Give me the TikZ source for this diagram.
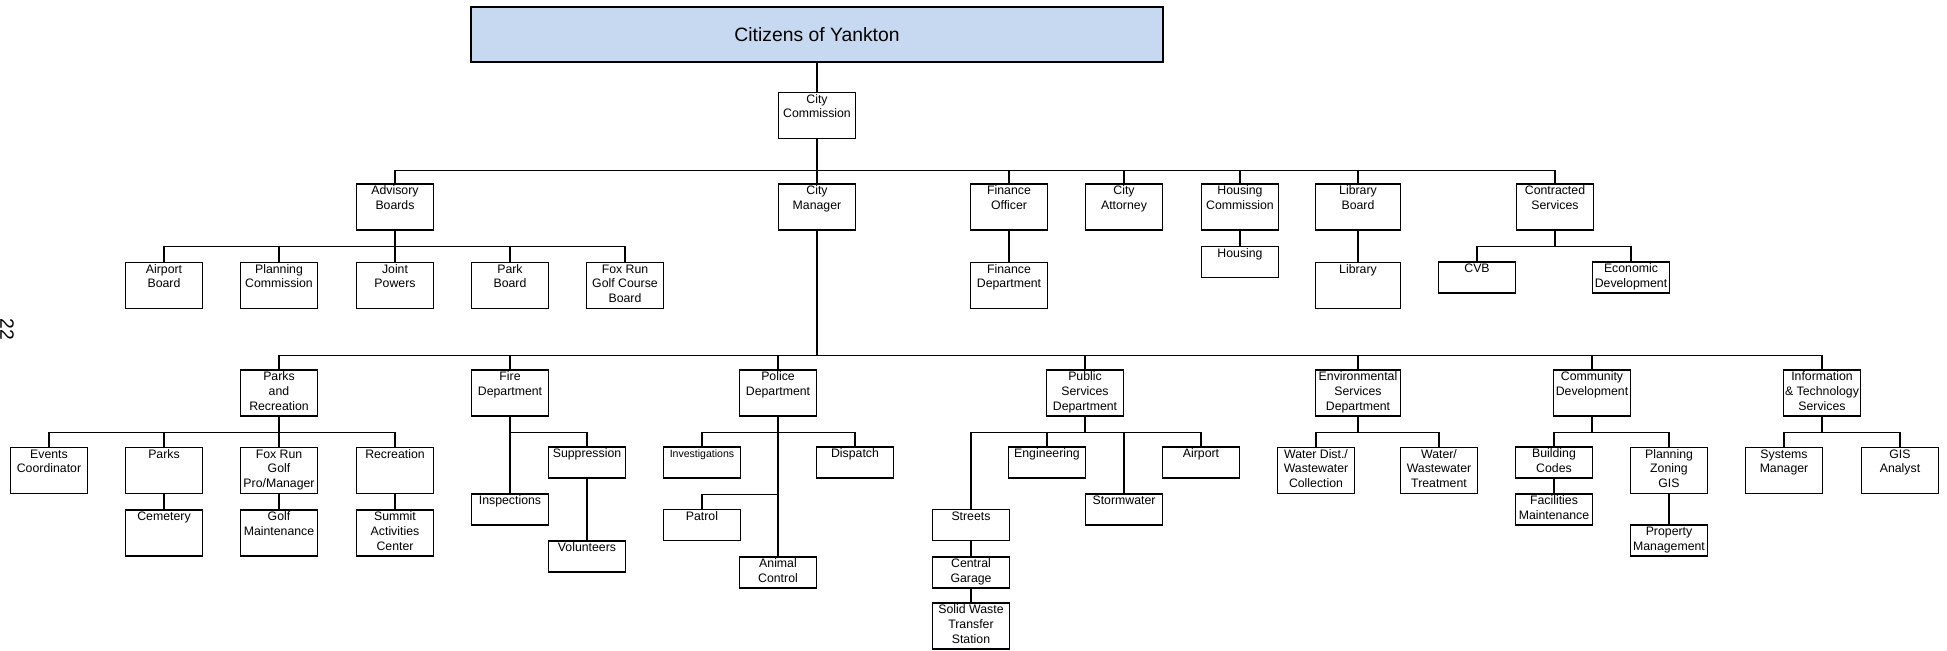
\documentclass[tikz,border=0pt]{standalone}
\usepackage{fontspec}
\setmainfont{Liberation Sans}
\definecolor{titleblue}{RGB}{198,217,240}
\newcommand{\blines}[1]{\begin{tabular}[t]{@{}c@{}}#1\end{tabular}}
\begin{document}
\begin{tikzpicture}[x=0.02cm,y=-0.02cm]

\tikzset{
	unitbox/.style={draw,line width=0.75pt,inner xsep=0pt,inner ysep=0pt,
		minimum width=1.54cm,font=\fontsize{7}{8.5}\selectfont,
		text height=0.21cm},
	tallbox/.style={unitbox,text depth=0.71cm},
	shortbox/.style={unitbox,text depth=0.41cm},
	widebox/.style={minimum width=1.7cm},
	linkline/.style={line width=0.75pt},
}
\useasboundingbox (0,0) rectangle (1947,650);

\node[rotate=-90,inner sep=0pt,font=\fontsize{11}{13}\selectfont] (pg) at (7,329) {22};

%TOP
\node[draw,line width=1.1pt,fill=titleblue,minimum width=13.84cm,minimum height=1.1cm,
	font=\fontsize{11}{13}\selectfont] (cit) at (817,34.5) {Citizens of Yankton};
\node[tallbox] (ccom) at (817,115.5) {\blines{City\\Commission}};

%ROW 2
\node[tallbox] (adv) at (395,207) {\blines{Advisory\\Boards}};
\node[tallbox] (cm) at (817,207) {\blines{City\\Manager}};
\node[tallbox] (fin) at (1009,207) {\blines{Finance\\Officer}};
\node[tallbox] (atty) at (1124,207) {\blines{City\\Attorney}};
\node[tallbox] (hcom) at (1240,207) {\blines{Housing\\Commission}};
\node[tallbox,widebox] (lbrd) at (1358,207) {\blines{Library\\Board}};
\node[tallbox] (cont) at (1555,207) {\blines{Contracted\\Services}};

%ADVISORY BOARDS
\node[tallbox] (airb) at (164,285.5) {\blines{Airport\\Board}};
\node[tallbox] (plan) at (279,285.5) {\blines{Planning\\Commission}};
\node[tallbox] (joint) at (395,285.5) {\blines{Joint\\Powers}};
\node[tallbox] (park) at (510,285.5) {\blines{Park\\Board}};
\node[tallbox] (fxgc) at (625,285.5) {\blines{Fox Run\\Golf Course\\Board}};
%OTHER BOARDS
\node[tallbox] (fdep) at (1009,285.5) {\blines{Finance\\Department}};
\node[shortbox] (hous) at (1240,262) {Housing};
\node[tallbox,widebox] (lib) at (1358,285.5) {Library};
\node[shortbox] (cvb) at (1477,277.5) {CVB};
\node[shortbox] (econ) at (1631,277.5) {\blines{Economic\\Development}};

%DEPARTMENTS
\node[tallbox] (pr) at (279,393) {\blines{Parks\\and\\Recreation}};
\node[tallbox] (fire) at (510,393) {\blines{Fire\\Department}};
\node[tallbox] (pol) at (778,393) {\blines{Police\\Department}};
\node[tallbox] (pub) at (1085,393) {\blines{Public\\Services\\Department}};
\node[tallbox,widebox] (env) at (1358,393) {\blines{Environmental\\Services\\Department}};
\node[tallbox] (comm) at (1592,393) {\blines{Community\\Development}};
\node[tallbox] (its) at (1822,393) {\blines{Information\\\& Technology\\Services}};

%PARKS
\node[tallbox] (evt) at (49,470.5) {\blines{Events\\Coordinator}};
\node[tallbox] (parks) at (164,470.5) {Parks};
\node[tallbox] (pro) at (279,470.5) {\blines{Fox Run\\Golf\\Pro/Manager}};
\node[tallbox] (rec) at (395,470.5) {Recreation};
\node[tallbox] (cem) at (164,533) {Cemetery};
\node[tallbox] (golf) at (279,533) {\blines{Golf\\Maintenance}};
\node[tallbox] (summ) at (395,533) {\blines{Summit\\Activities\\Center}};
%FIRE
\node[shortbox] (sup) at (587,462.5) {Suppression};
\node[shortbox] (insp) at (510,509.5) {Inspections};
\node[shortbox] (vol) at (587,556.5) {Volunteers};
%POLICE
\node[shortbox,font=\fontsize{6}{8}\selectfont] (inv) at (702,462.5) {Investigations};
\node[shortbox] (disp) at (855,462.5) {Dispatch};
\node[shortbox] (patrol) at (702,525) {Patrol};
\node[shortbox] (anim) at (778,572.5) {\blines{Animal\\Control}};
%PUBLIC SERVICES
\node[shortbox] (eng) at (1047,462.5) {Engineering};
\node[shortbox] (airp) at (1201,462.5) {Airport};
\node[shortbox] (storm) at (1124,509.5) {Stormwater};
\node[shortbox] (streets) at (971,525) {Streets};
\node[shortbox] (cgar) at (971,572.5) {\blines{Central\\Garage}};
\node[tallbox] (solid) at (971,626) {\blines{Solid Waste\\Transfer\\Station}};
%ENVIRONMENTAL
\node[tallbox] (wdist) at (1316,470.5) {\blines{Water Dist./\\Wastewater\\Collection}};
\node[tallbox] (wtreat) at (1439,470.5) {\blines{Water/\\Wastewater\\Treatment}};
%COMMUNITY
\node[shortbox] (bcode) at (1554,462.5) {\blines{Building\\Codes}};
\node[shortbox] (fac) at (1554,509.5) {\blines{Facilities\\Maintenance}};
\node[tallbox] (pzg) at (1669,470.5) {\blines{Planning\\Zoning\\GIS}};
\node[shortbox] (prop) at (1669,540.5) {\blines{Property\\Management}};
%IT
\node[tallbox] (sys) at (1784,470.5) {\blines{Systems\\Manager}};
\node[tallbox] (gisa) at (1900,470.5) {\blines{GIS\\Analyst}};

%LINKS
\draw[line width=1.1pt] (cit) -- (ccom);
\draw[linkline] (ccom.south) -- ++(0,31) coordinate (b-ccom);
\foreach \c in {adv,cm,fin,atty,hcom,lbrd,cont}
	\draw[linkline] (\c.north) |- (b-ccom);
\draw[linkline] (cm.south) -- ++(0,125) coordinate (b-cm);
\foreach \c in {pr,fire,pol,pub,env,comm,its}
	\draw[linkline] (\c.north) |- (b-cm);

\draw[linkline] (adv.south) -- ++(0,16) coordinate (b-adv);
\foreach \c in {airb,plan,joint,park,fxgc}
	\draw[linkline] (\c.north) |- (b-adv);
\draw[linkline] (fin) -- (fdep);
\draw[linkline] (hcom) -- (hous);
\draw[linkline] (lbrd) -- (lib);
\draw[linkline] (cont.south) -- ++(0,16) coordinate (b-cont);
\foreach \c in {cvb,econ}
	\draw[linkline] (\c.north) |- (b-cont);

%parks
\draw[linkline] (pr.south) -- ++(0,16) coordinate (b-pr);
\foreach \c in {evt,parks,pro,rec}
	\draw[linkline] (\c.north) |- (b-pr);
\draw[linkline] (parks) -- (cem);
\draw[linkline] (pro) -- (golf);
\draw[linkline] (rec) -- (summ);
%fire
\draw[linkline] (fire) -- (insp);
\path (fire.south) ++(0,16) coordinate (b-fire);
\draw[linkline] (sup.north) |- (b-fire);
\draw[linkline] (sup) -- (vol);
%police
\draw[linkline] (pol) -- (anim);
\path (pol.south) ++(0,16) coordinate (b-pol) ++(0,62) coordinate (b-pat);
\foreach \c in {inv,disp}
	\draw[linkline] (\c.north) |- (b-pol);
\draw[linkline] (patrol.north) |- (b-pat);
%public services
\draw[linkline] (pub.south) -- ++(0,16) coordinate (b-pub);
\foreach \c in {streets,eng,storm,airp}
	\draw[linkline] (\c.north) |- (b-pub);
\draw[linkline] (streets) -- (cgar);
\draw[linkline] (cgar) -- (solid);
%environmental
\draw[linkline] (env.south) -- ++(0,16) coordinate (b-env);
\foreach \c in {wdist,wtreat}
	\draw[linkline] (\c.north) |- (b-env);
%community
\draw[linkline] (comm.south) -- ++(0,16) coordinate (b-comm);
\foreach \c in {bcode,pzg}
	\draw[linkline] (\c.north) |- (b-comm);
\draw[linkline] (bcode) -- (fac);
\draw[linkline] (pzg) -- (prop);
%it
\draw[linkline] (its.south) -- ++(0,16) coordinate (b-its);
\foreach \c in {sys,gisa}
	\draw[linkline] (\c.north) |- (b-its);

\end{tikzpicture}
\end{document}
